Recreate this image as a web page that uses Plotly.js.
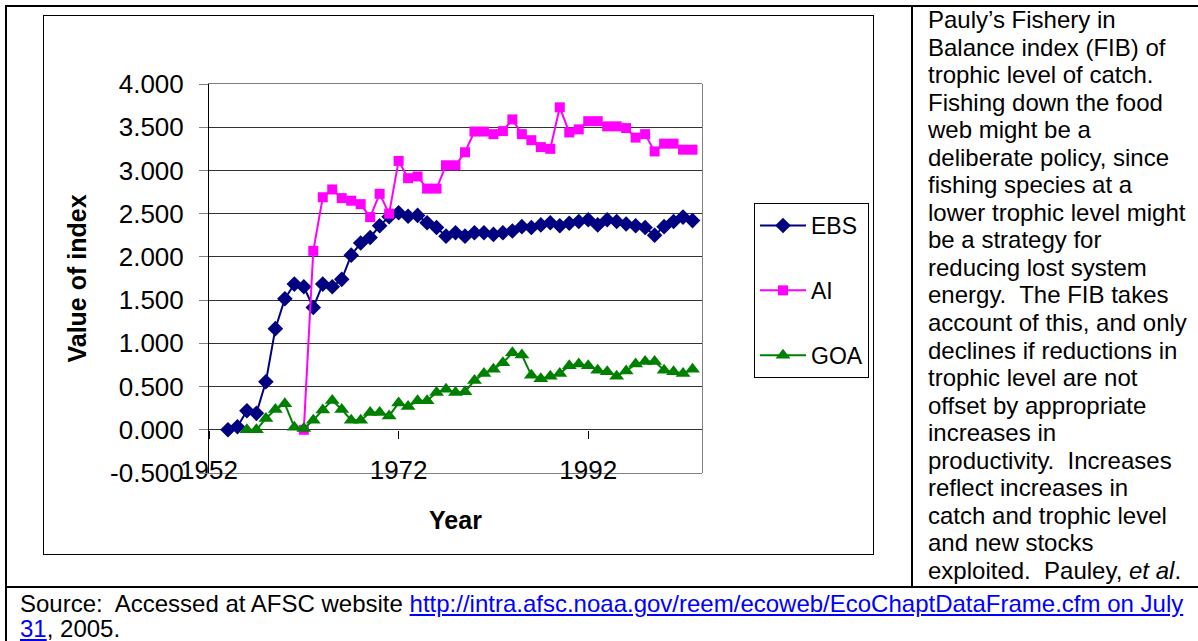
<!DOCTYPE html>
<html><head><meta charset="utf-8">
<script src="https://cdn.plot.ly/plotly-3.0.1.min.js"></script>
<style>
html,body{margin:0;padding:0;background:#fff;width:1198px;height:641px;overflow:hidden;font-family:"Liberation Sans",Arial,sans-serif;}
#outer{position:absolute;left:5px;top:5px;width:1260px;height:720px;border:2px solid #000;box-sizing:border-box;}
#vline{position:absolute;left:911px;top:5px;width:2px;height:583px;background:#000;}
#hline{position:absolute;left:5px;top:586px;width:1260px;height:2px;background:#000;}
#frame{position:absolute;left:43px;top:15px;width:831px;height:540px;border:1px solid #000;box-sizing:border-box;}
#chart{position:absolute;left:0;top:0;width:829px;height:538px;}
#note{position:absolute;left:928px;top:6px;font-size:24px;line-height:27.55px;white-space:nowrap;color:#000;}
#src{position:absolute;left:20px;top:591px;font-size:24px;line-height:25px;white-space:nowrap;color:#000;}
a{color:#0000ff;text-decoration:underline;}
</style>
</head><body>
<div id="outer"></div>
<div id="vline"></div>
<div id="hline"></div>
<div id="frame"><div id="chart"></div></div>
<div id="note">Pauly’s Fishery in<br>Balance index (FIB) of<br>trophic level of catch.<br>Fishing down the food<br>web might be a<br>deliberate policy, since<br>fishing species at a<br>lower trophic level might<br>be a strategy for<br>reducing lost system<br>energy.&nbsp; The FIB takes<br>account of this, and only<br>declines if reductions in<br>trophic level are not<br>offset by appropriate<br>increases in<br>productivity.&nbsp; Increases<br>reflect increases in<br>catch and trophic level<br>and new stocks<br>exploited.&nbsp; Pauley, <i>et al</i>.</div>
<div id="src">Source:&nbsp; Accessed at AFSC website <a href="#">http://intra.afsc.noaa.gov/reem/ecoweb/EcoChaptDataFrame.cfm on July<br>31</a>, 2005.</div>
<script>
var ebsYears = [1954,1955,1956,1957,1958,1959,1960,1961,1962,1963,1964,1965,1966,1967,1968,1969,1970,1971,1972,1973,1974,1975,1976,1977,1978,1979,1980,1981,1982,1983,1984,1985,1986,1987,1988,1989,1990,1991,1992,1993,1994,1995,1996,1997,1998,1999,2000,2001,2002,2003];
var ebsValues = [0.00,0.035,0.22,0.19,0.555,1.17,1.516,1.685,1.655,1.415,1.685,1.655,1.74,2.02,2.16,2.225,2.36,2.464,2.51,2.47,2.48,2.395,2.34,2.24,2.28,2.24,2.28,2.28,2.26,2.28,2.30,2.35,2.34,2.37,2.395,2.36,2.39,2.41,2.43,2.37,2.43,2.41,2.38,2.36,2.34,2.25,2.35,2.41,2.46,2.42];
var aiYears = [1962,1963,1964,1965,1966,1967,1968,1969,1970,1971,1972,1973,1974,1975,1976,1977,1978,1979,1980,1981,1982,1983,1984,1985,1986,1987,1988,1989,1990,1991,1992,1993,1994,1995,1996,1997,1998,1999,2000,2001,2002,2003];
var aiValues = [0.00,2.07,2.69,2.78,2.68,2.65,2.61,2.46,2.73,2.50,3.11,2.91,2.93,2.79,2.79,3.06,3.06,3.21,3.45,3.45,3.42,3.455,3.59,3.42,3.35,3.27,3.25,3.73,3.44,3.475,3.57,3.57,3.51,3.51,3.49,3.38,3.42,3.22,3.31,3.31,3.24,3.24];
var goaYears = [1956,1957,1958,1959,1960,1961,1962,1963,1964,1965,1966,1967,1968,1969,1970,1971,1972,1973,1974,1975,1976,1977,1978,1979,1980,1981,1982,1983,1984,1985,1986,1987,1988,1989,1990,1991,1992,1993,1994,1995,1996,1997,1998,1999,2000,2001,2002,2003];
var goaValues = [0.00,0.00,0.13,0.235,0.30,0.03,0.015,0.11,0.23,0.34,0.235,0.11,0.11,0.20,0.20,0.16,0.31,0.27,0.335,0.335,0.43,0.47,0.43,0.44,0.57,0.65,0.70,0.775,0.89,0.865,0.63,0.59,0.62,0.65,0.74,0.76,0.74,0.69,0.67,0.62,0.68,0.76,0.79,0.79,0.69,0.67,0.65,0.70];
var yTickVals = [-0.5,0,0.5,1,1.5,2,2.5,3,3.5,4];
var yTickText = ['-0.500','0.000','0.500','1.000','1.500','2.000','2.500','3.000','3.500','4.000'];
var xTickVals = [1952,1972,1992];
var xTickText = ['1952','1972','1992'];
var seriesNames = ['EBS','AI','GOA'];

var FONT = '"Liberation Sans", Arial, sans-serif';
var traces = [
  {x: ebsYears, y: ebsValues, name: seriesNames[0], legendgroup:'a', mode:'lines+markers',
   line:{color:'#000080', width:2}, marker:{symbol:'diamond', size:12, color:'#000080'}},
  {x: aiYears, y: aiValues, name: seriesNames[1], legendgroup:'b', mode:'lines+markers',
   line:{color:'#FF00FF', width:2}, marker:{symbol:'square', size:10, color:'#FF00FF'}},
  {x: goaYears, y: goaValues, name: seriesNames[2], legendgroup:'c', mode:'lines+markers',
   line:{color:'#008000', width:2}, marker:{symbol:'triangle-up', size:13, color:'#008000'}},
  {x: [xTickVals[0]], y: [null], xaxis:'x2', yaxis:'y2', showlegend:false, hoverinfo:'skip', mode:'markers'}
];
var layout = {
  width: 829, height: 538,
  margin: {l:165, r:171, t:68, b:81, autoexpand:false},
  paper_bgcolor:'#fff', plot_bgcolor:'#fff',
  font: {family: FONT, color:'#000'},
  showlegend: true,
  xaxis: {range:[1952,2004], tickvals:xTickVals, ticktext:xTickText, ticks:'', showgrid:false,
    showline:true, linecolor:'#808080', linewidth:1, mirror:true, zeroline:false,
    tickfont:{size:26, color:'#000'}, ticklabelstandoff:-26, automargin:false,
    title:{text:'Year', font:{size:25, weight:'bold', color:'#000'}, standoff:27}},
  xaxis2: {overlaying:'x', anchor:'free', position: 0.5/4.5, range:[1952,2004], tickvals:xTickVals,
    ticks:'outside', ticklen:8, tickcolor:'#000', tickwidth:1, showticklabels:false, showgrid:false,
    showline:false, zeroline:false},
  yaxis: {range:[-0.5,4], tickvals:yTickVals, ticktext:yTickText, showgrid:true, gridcolor:'#333', gridwidth:1,
    ticks:'outside', ticklen:9, tickcolor:'#808080', showline:true, linecolor:'#000', linewidth:1,
    zeroline:false, tickfont:{size:26, color:'#000'}, ticklabelstandoff:10, automargin:false,
    title:{text:'Value of index', font:{size:25, weight:'bold', color:'#000'}, standoff:16}},
  yaxis2: {overlaying:'y', anchor:'free', position:1, side:'right', range:[-0.5,4], showline:true,
    linecolor:'#808080', linewidth:1, ticks:'', showticklabels:false, showgrid:false, zeroline:false},
  legend: {x: (754-209)/493, y: (473-203)/389, xanchor:'left', yanchor:'top',
    bordercolor:'#000', borderwidth:1, bgcolor:'#fff', font:{size:23, color:'#000'},
    traceorder:'grouped', tracegroupgap:32, itemwidth:46, valign:'middle',
    title:{text:''}}
};
Plotly.newPlot('chart', traces, layout, {staticPlot:true, displayModeBar:false});
</script>
</body></html>
